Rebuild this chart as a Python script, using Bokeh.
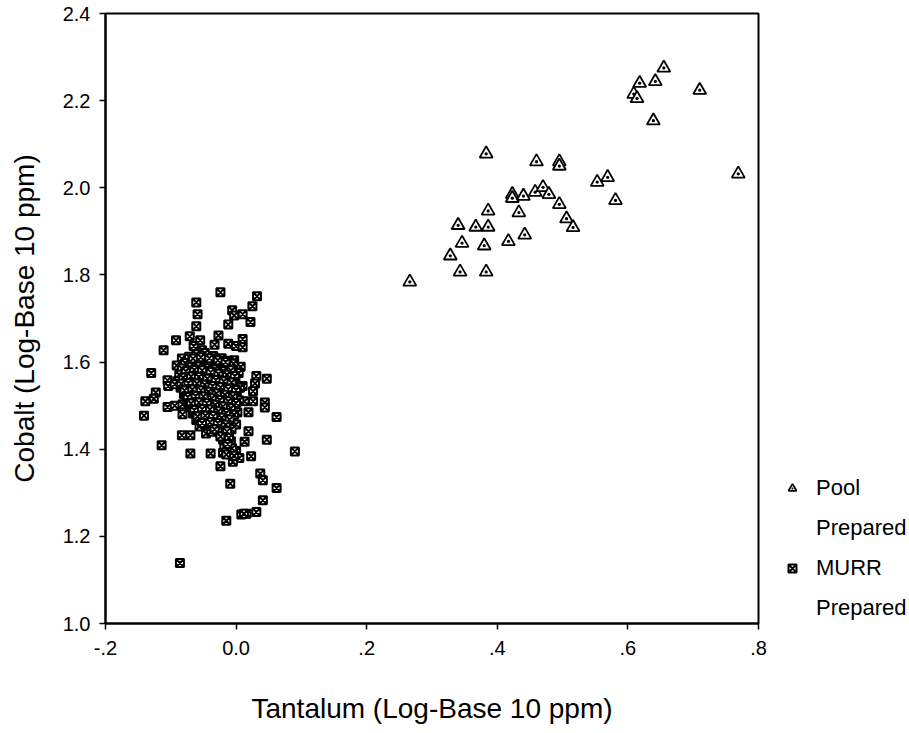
from bokeh.plotting import figure
from bokeh.models import (Range1d, FixedTicker, Legend, LegendItem,
                          NumeralTickFormatter)
from bokeh.embed import file_html
from bokeh.resources import INLINE

# ---------------- data ----------------
pool_x = [0.655, 0.618, 0.642, 0.710, 0.609, 0.614, 0.639, 0.769, 0.383, 0.460,
          0.495, 0.495, 0.553, 0.569, 0.581, 0.423, 0.423, 0.440, 0.458, 0.470,
          0.479, 0.495, 0.386, 0.433, 0.506, 0.516, 0.340, 0.367, 0.386, 0.346,
          0.380, 0.417, 0.442, 0.328, 0.343, 0.383, 0.266]
pool_y = [2.275, 2.240, 2.244, 2.224, 2.215, 2.205, 2.154, 2.032, 2.078, 2.060,
          2.060, 2.050, 2.013, 2.024, 1.971, 1.985, 1.976, 1.981, 1.990, 2.001,
          1.985, 1.962, 1.947, 1.943, 1.929, 1.909, 1.914, 1.910, 1.910, 1.873,
          1.867, 1.877, 1.892, 1.844, 1.807, 1.807, 1.784]

murr_x = [
    # scattered points
    -0.024, 0.032, -0.061, 0.025, -0.006, -0.059, 0.010, -0.003, -0.012, 0.022,
    -0.061, -0.071, -0.027, 0.010, -0.092, -0.055, -0.033, -0.012, 0.000, 0.010,
    -0.065, -0.111, -0.052, -0.083, -0.003, 0.007, -0.091, -0.071, -0.130, -0.105,
    0.031, 0.047, -0.104, 0.029, 0.010, -0.123, -0.126, -0.139, 0.026, 0.013,
    0.026, 0.044, 0.044, -0.105, -0.094, -0.082, -0.141, -0.082, 0.019, 0.062,
    -0.083, -0.070, -0.046, -0.033, 0.019, -0.015, 0.047, 0.013, -0.114, -0.070,
    -0.039, -0.020, 0.000, 0.023, 0.005, -0.005, -0.024, 0.090, 0.037, 0.041,
    -0.009, 0.062, 0.041, 0.031, 0.016, 0.008, 0.012, -0.015, -0.086,
    # dense core
    -0.072, -0.061, -0.048, -0.035, -0.022, -0.011, -0.004,
    -0.078, -0.066, -0.054, -0.041, -0.029, -0.016,
    -0.083, -0.071, -0.058, -0.045, -0.033, -0.020, -0.008, 0.004,
    -0.087, -0.075, -0.063, -0.050, -0.038, -0.025, -0.013, -0.001,
    -0.090, -0.079, -0.067, -0.055, -0.042, -0.030, -0.018, -0.006, 0.006,
    -0.085, -0.073, -0.061, -0.048, -0.036, -0.024, -0.011, 0.001,
    -0.080, -0.068, -0.056, -0.043, -0.031, -0.019, -0.007, 0.005,
    -0.076, -0.064, -0.052, -0.039, -0.027, -0.014, -0.002,
    -0.071, -0.059, -0.047, -0.034, -0.022, -0.010, 0.002,
    -0.066, -0.054, -0.042, -0.029, -0.017, -0.005,
    -0.061, -0.049, -0.037, -0.024, -0.012, 0.000,
    -0.056, -0.043, -0.031, -0.019, -0.007,
    -0.038, -0.025, -0.013, -0.020, -0.008, -0.018, -0.006, -0.015, -0.003,
    # further core points
    -0.066, -0.054, -0.041, -0.028, -0.016,
    -0.077, -0.064, -0.052, -0.039, -0.027, -0.014, -0.002,
    -0.081, -0.069, -0.057, -0.044, -0.031, -0.019, -0.007,
    -0.094, -0.084, -0.073, -0.060, -0.048, -0.036, -0.024, -0.012, 0.000,
    -0.079, -0.067, -0.054, -0.042, -0.030, -0.017, -0.005,
    -0.074, -0.062, -0.050, -0.037, -0.025, -0.012, 0.000,
    -0.069, -0.057, -0.045, -0.032, -0.020, -0.008,
    -0.064, -0.052, -0.040, -0.027, -0.015, -0.003,
    -0.059, -0.047, -0.035, -0.022, -0.010,
    -0.052, -0.040, -0.028, -0.016, -0.033, -0.014, -0.024, -0.011, -0.013,
]
murr_y = [
    1.760, 1.751, 1.737, 1.728, 1.719, 1.710, 1.710, 1.707, 1.686, 1.692,
    1.682, 1.659, 1.661, 1.653, 1.650, 1.650, 1.640, 1.642, 1.637, 1.634,
    1.637, 1.627, 1.627, 1.608, 1.604, 1.589, 1.592, 1.581, 1.575, 1.558,
    1.568, 1.562, 1.545, 1.551, 1.545, 1.530, 1.516, 1.510, 1.533, 1.510,
    1.510, 1.507, 1.496, 1.497, 1.500, 1.503, 1.477, 1.480, 1.485, 1.474,
    1.432, 1.432, 1.436, 1.445, 1.441, 1.441, 1.422, 1.417, 1.409, 1.390,
    1.390, 1.392, 1.396, 1.384, 1.380, 1.371, 1.361, 1.395, 1.344, 1.329,
    1.321, 1.311, 1.283, 1.256, 1.252, 1.250, 1.252, 1.236, 1.139,
    1.612, 1.618, 1.621, 1.614, 1.609, 1.603, 1.596,
    1.598, 1.602, 1.605, 1.601, 1.598, 1.592,
    1.585, 1.588, 1.590, 1.586, 1.583, 1.579, 1.581, 1.575,
    1.571, 1.573, 1.575, 1.572, 1.569, 1.566, 1.563, 1.560,
    1.556, 1.559, 1.561, 1.558, 1.554, 1.551, 1.548, 1.545, 1.541,
    1.541, 1.544, 1.546, 1.542, 1.538, 1.535, 1.531, 1.528,
    1.527, 1.529, 1.531, 1.526, 1.522, 1.519, 1.515, 1.512,
    1.512, 1.514, 1.516, 1.511, 1.507, 1.503, 1.499,
    1.497, 1.499, 1.501, 1.496, 1.492, 1.488, 1.484,
    1.482, 1.484, 1.485, 1.480, 1.476, 1.472,
    1.467, 1.469, 1.470, 1.465, 1.461, 1.457,
    1.452, 1.454, 1.455, 1.450, 1.446,
    1.440, 1.438, 1.433, 1.422, 1.418, 1.406, 1.402, 1.388, 1.385,
    1.608, 1.611, 1.609, 1.604, 1.600,
    1.579, 1.582, 1.581, 1.577, 1.573, 1.571, 1.568,
    1.564, 1.567, 1.566, 1.562, 1.559, 1.556, 1.553,
    1.549, 1.550, 1.552, 1.551, 1.548, 1.545, 1.542, 1.538, 1.536,
    1.535, 1.537, 1.535, 1.532, 1.528, 1.525, 1.521,
    1.520, 1.522, 1.521, 1.517, 1.513, 1.510, 1.506,
    1.505, 1.507, 1.506, 1.502, 1.498, 1.494,
    1.490, 1.492, 1.491, 1.487, 1.483, 1.479,
    1.475, 1.477, 1.476, 1.472, 1.468,
    1.460, 1.462, 1.460, 1.456, 1.446, 1.441, 1.429, 1.426, 1.412,
]

x_tick_values = [-0.2, 0.0, 0.2, 0.4, 0.6, 0.8]
x_tick_labels = ["-.2", "0.0", ".2", ".4", ".6", ".8"]
y_tick_values = [1.0, 1.2, 1.4, 1.6, 1.8, 2.0, 2.2, 2.4]

series_names = ["Pool", "MURR"]
series_sub = "Prepared"

FONT = "Liberation Sans"

# ---------------- figure ----------------
p = figure(width=901, height=724, output_backend="svg", toolbar_location=None,
           x_range=Range1d(-0.2, 0.8), y_range=Range1d(1.0, 2.4),
           frame_width=653, frame_height=610,
           min_border_left=105, min_border_right=143, min_border_top=13,
           min_border_bottom=101)

p.background_fill_color = "white"
p.border_fill_color = "white"
p.outline_line_color = "black"
p.outline_line_width = 2
p.xgrid.visible = False
p.ygrid.visible = False

r_murr = p.scatter(murr_x, murr_y, marker="square_x", size=8,
                   fill_color="white", line_color="black", line_width=2)
r_pool = p.scatter(pool_x, pool_y, marker="triangle_dot", size=13,
                   fill_color="white", line_color="black", line_width=1.8)
# invisible renderer, only used for the second line of each legend entry
r_blank = p.scatter([], [], marker="square", size=1, fill_alpha=0, line_alpha=0)

for ax in (p.xaxis[0], p.yaxis[0]):
    ax.axis_line_color = "black"
    ax.axis_line_width = 2
    ax.major_tick_line_color = "black"
    ax.major_tick_line_width = 1.5
    ax.major_tick_in = 0
    ax.major_tick_out = 6
    ax.minor_tick_line_color = None
    ax.major_label_text_font = FONT
    ax.major_label_text_font_size = "20px"
    ax.major_label_text_color = "black"
    ax.axis_label_text_font = FONT
    ax.axis_label_text_font_size = "28px"
    ax.axis_label_text_font_style = "normal"
    ax.axis_label_text_color = "black"

p.xaxis.ticker = FixedTicker(ticks=x_tick_values)
p.xaxis.major_label_overrides = dict(zip(x_tick_values, x_tick_labels))
p.xaxis.major_label_standoff = 11
p.xaxis.axis_label = "Tantalum (Log-Base 10 ppm)"
p.xaxis.axis_label_standoff = 35

p.yaxis.ticker = FixedTicker(ticks=y_tick_values)
p.yaxis.formatter = NumeralTickFormatter(format="0.0")
p.yaxis.major_label_standoff = 9
p.yaxis.axis_label = "Cobalt (Log-Base 10 ppm)"
p.yaxis.axis_label_standoff = 20

legend = Legend(items=[LegendItem(label=series_names[0], renderers=[r_pool]),
                       LegendItem(label=series_sub, renderers=[r_blank]),
                       LegendItem(label=series_names[1], renderers=[r_murr]),
                       LegendItem(label=series_sub, renderers=[r_blank])],
                location=(24, 2), padding=0, margin=0, spacing=14,
                glyph_width=20, glyph_height=20, label_standoff=14,
                label_height=20,
                label_text_font=FONT, label_text_font_size="22px",
                label_text_color="black",
                border_line_color=None, background_fill_alpha=0)
p.add_layout(legend, "right")

open("out.html", "w").write(file_html(p, INLINE))
